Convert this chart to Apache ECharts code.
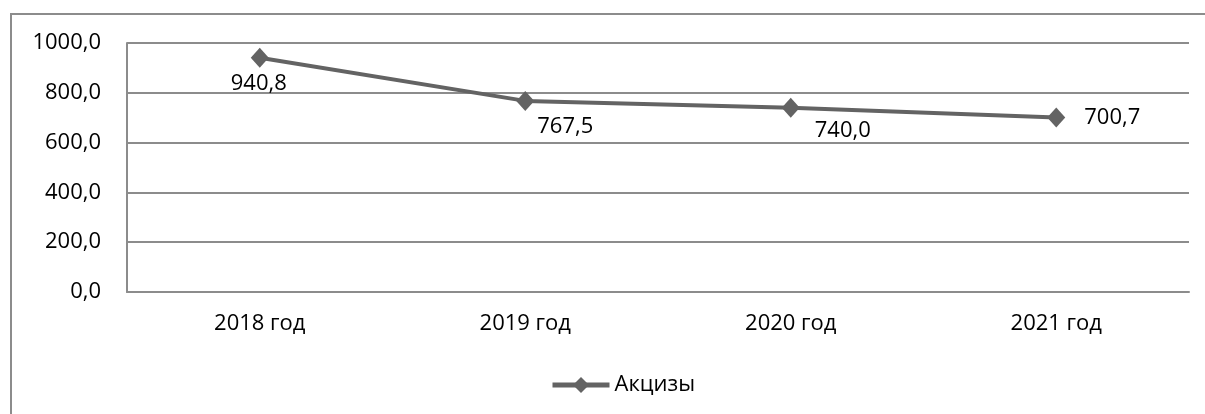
<!DOCTYPE html>
<html>
<head>
<meta charset="utf-8">
<script src="https://cdn.jsdelivr.net/npm/echarts@6/dist/echarts.min.js"></script>
<style>
  html, body { margin: 0; padding: 0; background: #fff; }
  #chart { width: 1205px; height: 414px; }
</style>
</head>
<body>
<div id="chart"></div>
<script>
const years = ['2018 год', '2019 год', '2020 год', '2021 год'];
const excise = [940.8, 767.5, 740.0, 700.7];
const seriesName = 'Акцизы';

const fmt = v => v.toFixed(1).replace('.', ',');
const labelShift = [[-1, 26], [40, 26], [52, 23], [56, 0]];
const font = '"Open Sans", sans-serif';

const myChart = echarts.init(document.getElementById('chart'));
const option = {
  animation: false,
  textStyle: { fontFamily: font },
  graphic: [{
    type: 'rect',
    shape: { x: 11, y: 14, width: 1210, height: 420 },
    style: { fill: 'none', stroke: '#8c8c8c', lineWidth: 2 }
  }],
  grid: { left: 127, right: 16, top: 43, bottom: 122 },
  legend: {
    left: 545, top: 369,
    itemWidth: 57, itemHeight: 20, itemGap: 4,
    lineStyle: { width: 5, color: '#636363' },
    textStyle: { fontSize: 22, color: '#000', fontFamily: font },
    data: [seriesName]
  },
  xAxis: {
    type: 'category',
    data: years,
    boundaryGap: true,
    axisLine: { lineStyle: { color: '#8c8c8c', width: 2 } },
    axisTick: { show: false },
    axisLabel: { fontSize: 22, color: '#000', margin: 21, fontFamily: font }
  },
  yAxis: {
    type: 'value',
    min: 0, max: 1000, interval: 200,
    axisLine: { show: true, lineStyle: { color: '#8c8c8c', width: 2 } },
    axisTick: { show: false },
    splitLine: { lineStyle: { color: '#8c8c8c', width: 2 } },
    axisLabel: { fontSize: 22, color: '#000', margin: 26, fontFamily: font, formatter: v => fmt(v) }
  },
  series: [{
    name: seriesName,
    type: 'line',
    data: excise.map((v, i) => ({
      value: v,
      label: { offset: labelShift[i] }
    })),
    symbol: 'diamond',
    symbolSize: [18, 20],
    lineStyle: { color: '#636363', width: 4 },
    itemStyle: { color: '#636363' },
    label: {
      show: true,
      position: 'inside',
      fontSize: 22,
      color: '#000',
      fontFamily: font,
      formatter: p => fmt(p.value)
    }
  }]
};
myChart.setOption(option);
</script>
</body>
</html>
